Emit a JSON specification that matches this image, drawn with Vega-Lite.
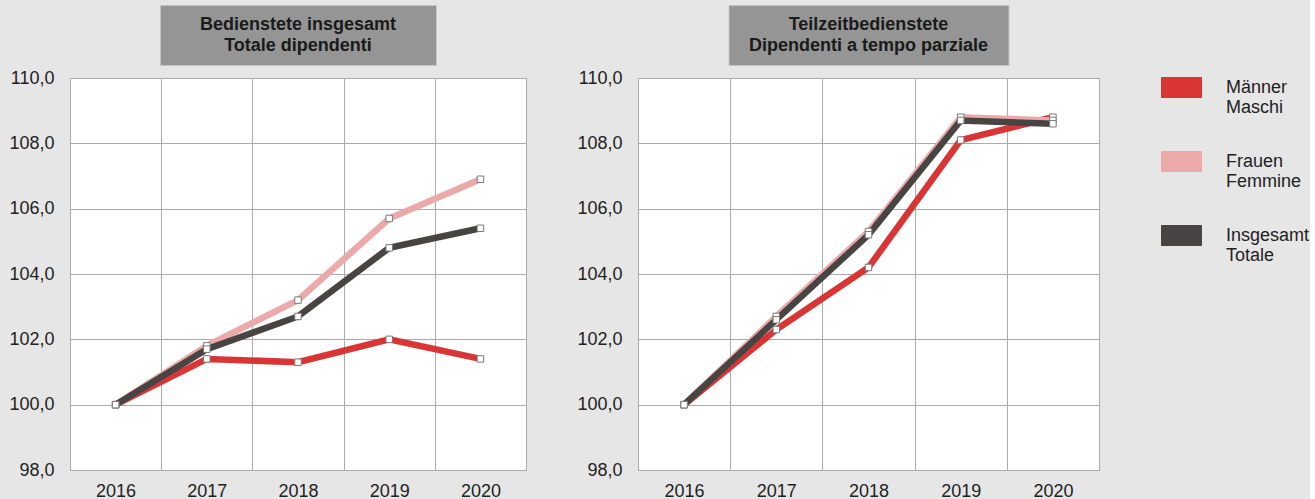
{
  "$schema": "https://vega.github.io/schema/vega-lite/v6.json",
  "background": "#e6e6e6",
  "padding": {"left": 8, "top": 4, "right": 0, "bottom": 0},
  "config": {
    "font": "Liberation Sans",
    "concat": {"spacing": 49},
    "axis": {"labelFont": "Liberation Sans", "labelFontSize": 18, "labelColor": "#222222", "gridColor": "#ababab", "gridWidth": 1, "ticks": false, "domain": false, "title": null}
  },
  "datasets": {
    "left": [
      {"year": "2016", "series": "Männer|Maschi", "value": 100.0},
      {"year": "2017", "series": "Männer|Maschi", "value": 101.4},
      {"year": "2018", "series": "Männer|Maschi", "value": 101.3},
      {"year": "2019", "series": "Männer|Maschi", "value": 102.0},
      {"year": "2020", "series": "Männer|Maschi", "value": 101.4},
      {"year": "2016", "series": "Frauen|Femmine", "value": 100.0},
      {"year": "2017", "series": "Frauen|Femmine", "value": 101.8},
      {"year": "2018", "series": "Frauen|Femmine", "value": 103.2},
      {"year": "2019", "series": "Frauen|Femmine", "value": 105.7},
      {"year": "2020", "series": "Frauen|Femmine", "value": 106.9},
      {"year": "2016", "series": "Insgesamt|Totale", "value": 100.0},
      {"year": "2017", "series": "Insgesamt|Totale", "value": 101.7},
      {"year": "2018", "series": "Insgesamt|Totale", "value": 102.7},
      {"year": "2019", "series": "Insgesamt|Totale", "value": 104.8},
      {"year": "2020", "series": "Insgesamt|Totale", "value": 105.4}
    ],
    "right": [
      {"year": "2016", "series": "Männer|Maschi", "value": 100.0},
      {"year": "2017", "series": "Männer|Maschi", "value": 102.3},
      {"year": "2018", "series": "Männer|Maschi", "value": 104.2},
      {"year": "2019", "series": "Männer|Maschi", "value": 108.1},
      {"year": "2020", "series": "Männer|Maschi", "value": 108.8},
      {"year": "2016", "series": "Frauen|Femmine", "value": 100.0},
      {"year": "2017", "series": "Frauen|Femmine", "value": 102.7},
      {"year": "2018", "series": "Frauen|Femmine", "value": 105.3},
      {"year": "2019", "series": "Frauen|Femmine", "value": 108.8},
      {"year": "2020", "series": "Frauen|Femmine", "value": 108.7},
      {"year": "2016", "series": "Insgesamt|Totale", "value": 100.0},
      {"year": "2017", "series": "Insgesamt|Totale", "value": 102.6},
      {"year": "2018", "series": "Insgesamt|Totale", "value": 105.2},
      {"year": "2019", "series": "Insgesamt|Totale", "value": 108.7},
      {"year": "2020", "series": "Insgesamt|Totale", "value": 108.6}
    ]
  },
  "hconcat": [
    {
      "vconcat": [
        {
          "width": 276, "height": 60,
          "view": {"fill": "#959595", "stroke": "#c4c4c4"},
          "data": {"values": [{"a": 1}]},
          "mark": {"type": "text", "text": ["Bedienstete insgesamt", "Totale dipendenti"], "font": "Liberation Sans", "fontSize": 18, "fontWeight": "bold", "color": "#1a1a1a", "lineHeight": 21, "baseline": "middle", "align": "center", "dy": -10},
          "encoding": {}
        },
        {
          "width": 456, "height": 392,
          "data": {"name": "left"},
          "view": {"fill": "white", "stroke": "#9a9a9a"},
          "encoding": {
            "x": {"field": "year", "type": "ordinal", "scale": {"type": "band", "paddingInner": 0, "paddingOuter": 0}, "axis": {"tickBand": "extent", "grid": true, "labelAngle": 0, "labelPadding": 12}},
            "y": {"field": "value", "type": "quantitative", "scale": {"domain": [98, 110], "nice": false, "zero": false}, "axis": {"values": [98, 100, 102, 104, 106, 108, 110], "grid": true, "labelPadding": 16, "labelExpr": "replace(format(datum.value, '.1f'), '.', ',')"}}
          },
          "layer": [
            {"mark": {"type": "line", "strokeWidth": 6.5}, "encoding": {"color": {"field": "series", "type": "nominal", "sort": ["Männer|Maschi", "Frauen|Femmine", "Insgesamt|Totale"], "scale": {"domain": ["Männer|Maschi", "Frauen|Femmine", "Insgesamt|Totale"], "range": ["#d93535", "#eca9a9", "#494444"]}}}},
            {"mark": {"type": "point", "shape": "square", "filled": true, "fill": "white", "stroke": "#7a7a7a", "strokeWidth": 1, "size": 42, "opacity": 1}, "encoding": {"detail": {"field": "series"}}}
          ]
        }
      ],
      "spacing": 13, "center": true, "bounds": "flush"
    },
    {
      "vconcat": [
        {
          "width": 280, "height": 60,
          "view": {"fill": "#959595", "stroke": "#c4c4c4"},
          "data": {"values": [{"a": 1}]},
          "mark": {"type": "text", "text": ["Teilzeitbedienstete", "Dipendenti a tempo parziale"], "font": "Liberation Sans", "fontSize": 18, "fontWeight": "bold", "color": "#1a1a1a", "lineHeight": 21, "baseline": "middle", "align": "center", "dy": -10},
          "encoding": {}
        },
        {
          "width": 461, "height": 392,
          "data": {"name": "right"},
          "view": {"fill": "white", "stroke": "#9a9a9a"},
          "encoding": {
            "x": {"field": "year", "type": "ordinal", "scale": {"type": "band", "paddingInner": 0, "paddingOuter": 0}, "axis": {"tickBand": "extent", "grid": true, "labelAngle": 0, "labelPadding": 12}},
            "y": {"field": "value", "type": "quantitative", "scale": {"domain": [98, 110], "nice": false, "zero": false}, "axis": {"values": [98, 100, 102, 104, 106, 108, 110], "grid": true, "labelPadding": 16, "labelExpr": "replace(format(datum.value, '.1f'), '.', ',')"}}
          },
          "layer": [
            {"mark": {"type": "line", "strokeWidth": 6.5}, "encoding": {"color": {"field": "series", "type": "nominal", "sort": ["Männer|Maschi", "Frauen|Femmine", "Insgesamt|Totale"], "scale": {"domain": ["Männer|Maschi", "Frauen|Femmine", "Insgesamt|Totale"], "range": ["#d93535", "#eca9a9", "#494444"]}, "legend": {"title": null, "orient": "none", "legendX": 1091, "legendY": 62, "padding": 0, "symbolType": "M-1,-0.5H1V0.5H-1Z", "symbolSize": 1600, "symbolStrokeColor": "#7a5a5a", "symbolStrokeWidth": 1, "symbolOpacity": 1, "labelExpr": "split(datum.label, '|')", "labelFont": "Liberation Sans", "labelFontSize": 18, "labelColor": "#222222", "labelLineHeight": 20, "labelOffset": 24, "labelBaseline": "middle", "rowPadding": 24, "labelLimit": 0, "encode": {"symbols": {"update": {"fill": {"scale": "color", "field": "value"}, "fillOpacity": {"value": 1}, "stroke": {"value": "#6e5555"}, "strokeWidth": {"value": 1}}}}}}}},
            {"mark": {"type": "point", "shape": "square", "filled": true, "fill": "white", "stroke": "#7a7a7a", "strokeWidth": 1, "size": 42, "opacity": 1}, "encoding": {"detail": {"field": "series"}}}
          ]
        }
      ],
      "spacing": 13, "center": true, "bounds": "flush"
    }
  ]
}
